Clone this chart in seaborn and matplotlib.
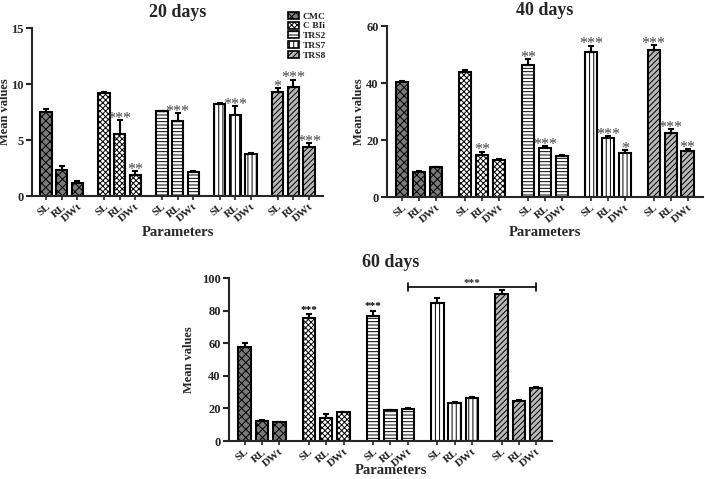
import numpy as np
import pandas as pd
import seaborn as sns
import matplotlib
matplotlib.use("Agg")
from matplotlib import pyplot as plt
from matplotlib.patches import Patch

# datos
parametros = ["SL", "RL", "DWt"]
cepas = ["CMC", "CBIi", "TRS2", "TRS7", "TRS8"]
etiquetas_leyenda = ["CMC", "C BIi", "TRS2", "TRS7", "TRS8"]

val_20 = [7.5, 2.3, 1.2, 9.2, 5.5, 1.9, 7.6, 6.7, 2.15, 8.2, 7.2, 3.75, 9.3, 9.7, 4.4]
err_20 = [0.3, 0.35, 0.1, 0.1, 1.3, 0.3, 0.03, 0.7, 0.05, 0.1, 0.8, 0.05, 0.3, 0.7, 0.3]
sig_20 = ["", "", "", "", "***", "**", "", "***", "", "", "***", "", "*", "***", "***"]

val_40 = [40.3, 8.7, 10.4, 43.8, 14.7, 12.9, 46.2, 17.3, 14.5, 51.0, 20.7, 15.4, 51.7, 22.6, 16.2]
err_40 = [0.3, 0.6, 0.3, 0.7, 1.2, 0.3, 2.2, 0.6, 0.3, 2.1, 0.6, 1.1, 1.6, 1.3, 0.5]
sig_40 = ["", "", "", "", "**", "", "**", "***", "", "***", "***", "*", "***", "***", "**"]

val_60 = [57.5, 12.0, 11.5, 75.5, 14.0, 17.6, 77.0, 18.8, 19.8, 85.0, 23.5, 26.5, 90.0, 24.7, 32.3]
err_60 = [2.8, 1.0, 0.3, 2.5, 2.3, 0.4, 3.0, 0.3, 0.3, 2.8, 0.4, 0.3, 2.8, 0.4, 1.0]
sig_60 = ["", "", "", "***", "", "", "***", "", "", "", "", "", "", "", ""]

yticks_20 = [0, 5, 10, 15]
yticks_40 = [0, 20, 40, 60]
yticks_60 = [0, 20, 40, 60, 80, 100]

# estilo de cada cepa
relleno = {"CMC": "#7a7a7a", "CBIi": "white", "TRS2": "white", "TRS7": "white", "TRS8": "#b8b8b8"}
trama = {"CMC": "xxxx", "CBIi": "xxxxxx", "TRS2": "-----", "TRS7": "||||", "TRS8": "//////"}

sns.set_style("ticks")
plt.rcParams["font.family"] = ["Liberation Serif", "DejaVu Serif"]
plt.rcParams["font.weight"] = "bold"
plt.rcParams["hatch.linewidth"] = 0.7
plt.rcParams["axes.linewidth"] = 1.5

paso = 3.7
pos = [g * paso + i for g in range(len(cepas)) for i in range(len(parametros))]


def panel(ax, valores, errores, sig, titulo, yticks, star_size, star_dy, star_w, star_c):
    df = pd.DataFrame({
        "pos": pos,
        "valor": valores,
        "cepa": [c for c in cepas for _ in parametros],
    })
    sns.barplot(data=df, x="pos", y="valor", native_scale=True, color="white",
                width=0.72, edgecolor="black", linewidth=1.5, ax=ax, errorbar=None)
    for p in ax.patches:
        cx = p.get_x() + p.get_width() / 2
        k = int(np.argmin(np.abs(np.array(pos) - cx)))
        c = df["cepa"][k]
        p.set_facecolor(relleno[c])
        p.set_hatch(trama[c])
    ax.errorbar(df["pos"], df["valor"], yerr=[np.zeros(len(errores)), errores],
                fmt="none", ecolor="black", elinewidth=1.5, capsize=2.5, capthick=1.5)
    for x, v, e, s in zip(pos, valores, errores, sig):
        if s:
            ax.annotate(s, (x, v + e), xytext=(0, star_dy), textcoords="offset points",
                        ha="center", va="baseline", fontsize=star_size,
                        fontweight=star_w, color=star_c, annotation_clip=False)
    ax.set_ylim(0, yticks[-1])
    ax.set_yticks(yticks)
    ax.set_xlim(-0.9, pos[-1] + 0.9)
    ax.set_xticks(pos)
    ax.set_xticklabels(parametros * len(cepas), rotation=40, ha="right",
                       rotation_mode="anchor", fontsize=8, fontweight="bold")
    ax.tick_params(axis="y", labelsize=9, width=1.5, length=4, pad=2)
    ax.tick_params(axis="x", width=1.2, length=3, pad=1.5)
    ax.set_title(titulo, fontsize=13, fontweight="bold", pad=8)
    ax.set_ylabel("Mean values", fontsize=9, fontweight="bold")
    ax.set_xlabel("Parameters", fontsize=10.5, fontweight="bold", va="center")
    sns.despine(ax=ax)


fig = plt.figure(figsize=(7.05, 4.79), dpi=100)
ax1 = fig.add_axes([0.0454, 0.5908, 0.4128, 0.3507])
ax2 = fig.add_axes([0.549, 0.5887, 0.448, 0.357])
ax3 = fig.add_axes([0.3248, 0.0793, 0.458, 0.340])

panel(ax1, val_20, err_20, sig_20, "20 days", yticks_20, 11.5, -2, "normal", "#444444")
panel(ax2, val_40, err_40, sig_40, "40 days", yticks_40, 11.5, -2, "normal", "#444444")
panel(ax3, val_60, err_60, sig_60, "60 days", yticks_60, 8, 1, "bold", "black")

ax1.yaxis.set_label_coords(-0.073, 0.5)
ax2.yaxis.set_label_coords(-0.07, 0.5)
ax3.yaxis.set_label_coords(-0.105, 0.5)
ax1.xaxis.set_label_coords(0.5, -0.215)
ax2.xaxis.set_label_coords(0.5, -0.21)
ax3.xaxis.set_label_coords(0.5, -0.183)

# barra de significancia en 60 dias
x0, x1 = pos[8], pos[14]
ax3.plot([x0, x1], [94.5, 94.5], color="black", lw=1.2, clip_on=False)
ax3.plot([x0, x0], [92, 97], color="black", lw=1.2, clip_on=False)
ax3.plot([x1, x1], [92, 97], color="black", lw=1.2, clip_on=False)
ax3.annotate("***", ((x0 + x1) / 2, 94.5), xytext=(0, 1), textcoords="offset points",
             ha="center", va="baseline", fontsize=8, fontweight="bold", annotation_clip=False)

handles = [Patch(facecolor=relleno[c], edgecolor="black", hatch=trama[c], linewidth=1.2) for c in cepas]
fig.legend(handles, etiquetas_leyenda, loc="upper left",
           bbox_to_anchor=(0.409, 0.975), frameon=False, fontsize=6.8,
           borderpad=0, borderaxespad=0, handlelength=1.15, handleheight=0.75,
           labelspacing=0.1, handletextpad=0.35)

fig.savefig("out.png", dpi=100)
